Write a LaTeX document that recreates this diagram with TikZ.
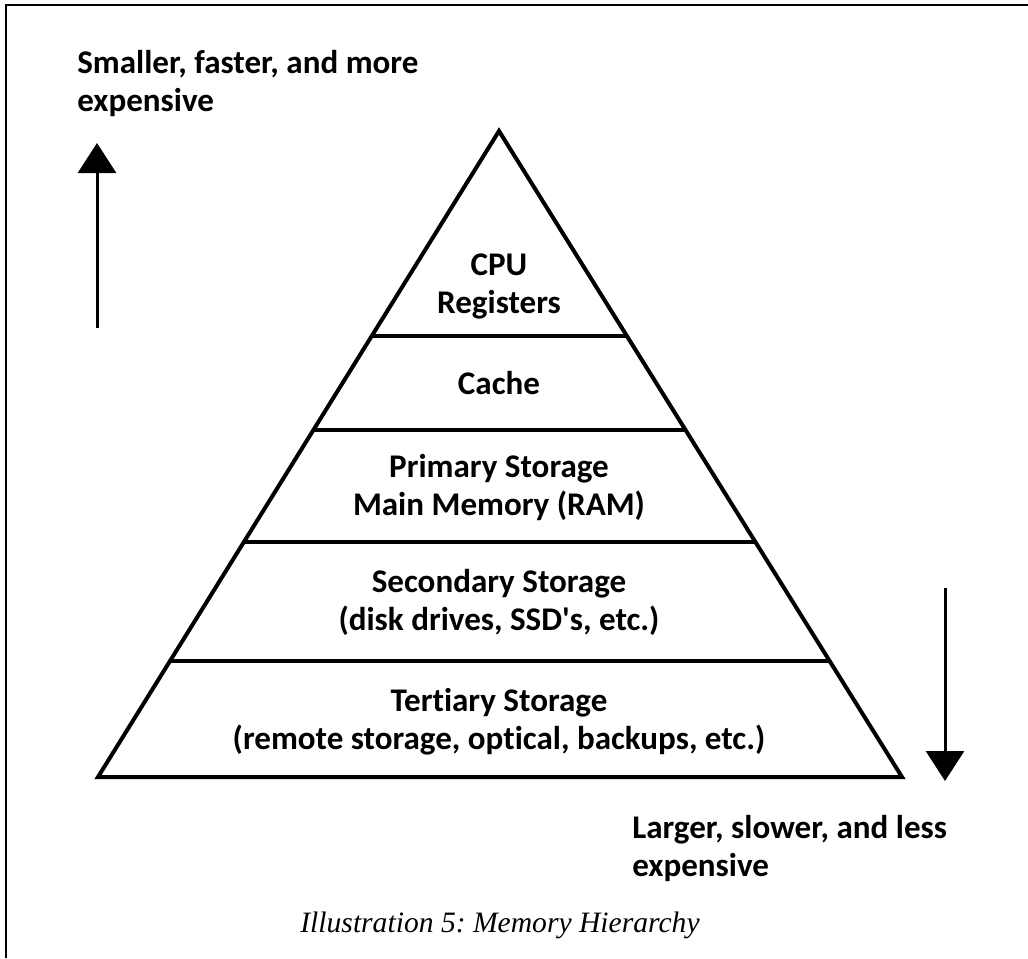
\documentclass[tikz,border=0pt]{standalone}
\usepackage{fontspec}
\setmainfont{Carlito}[Ligatures={TeXOff,NoCommon}]
\newfontfamily\captfont{Liberation Serif}
\usetikzlibrary{arrows.meta,calc}
\frenchspacing
\begin{document}
\begin{tikzpicture}[>={Triangle[width=28.5pt,length=22.5pt]},x=0.75pt,y=-0.75pt,
		lbl/.style={font=\fontsize{24.8}{28.5}\selectfont\bfseries,align=center,inner sep=0pt},
		edge/.style={line width=3pt}]
		\useasboundingbox (0,0) rectangle (1028,958);
		\draw[line width=1.5pt] (6,958) -- (6,5) -- (1028,5); % Khung
		\coordinate (top) at (499,131);
		\coordinate (bl) at (98,777);
		\coordinate (br) at (902,777);
		\draw[edge,line join=miter] (top) -- (bl) -- (br) -- cycle;
		\foreach \t in {0.318,0.463,0.636,0.82}
		\draw[edge] ($(top)!\t!(bl)$) -- ($(top)!\t!(br)$);
		\node[lbl] (cpu) at (499,286) {CPU\\Registers};
		\node[lbl] (cache) at (499,383) {Cache};
		\node[lbl] (ram) at (499,487) {Primary Storage\\Main Memory (RAM)};
		\node[lbl] (disk) at (499,602) {Secondary Storage\\(disk drives, SSD's, etc.)};
		\node[lbl] (tape) at (499,722) {Tertiary Storage\\(remote storage, optical, backups, etc.)};
		\node[lbl,align=left,anchor=west] (fast) at (77,83) {Smaller, faster, and more\\expensive};
		\node[lbl,align=left,anchor=west] (slow) at (632,848) {Larger, slower, and less\\expensive};
		\node[font=\captfont\itshape\fontsize{22.2}{24}\selectfont,inner sep=0pt] (capt) at (500,925) {Illustration 5: Memory Hierarchy};
		\coordinate (up0) at (97,328);
		\coordinate (up1) at (97,143);
		\coordinate (dn0) at (945,588);
		\coordinate (dn1) at (945,781);
		\draw[->,line width=2.25pt] (up0) -- (up1);
		\draw[->,line width=2.25pt] (dn0) -- (dn1);
		\end{tikzpicture}
\end{document}
